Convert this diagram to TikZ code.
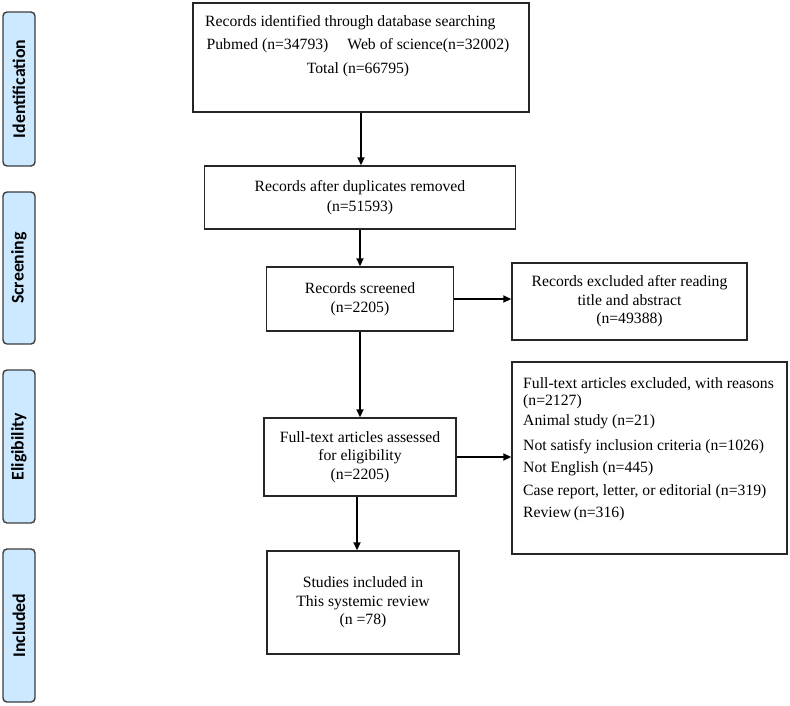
\documentclass[tikz,border=0pt]{standalone}
\usepackage{fontspec}
\setmainfont{Liberation Serif}
\newfontfamily\barfont{Carlito}
\usetikzlibrary{arrows.meta}
\definecolor{barblue}{HTML}{CCE9FF}
\definecolor{edge}{HTML}{262626}
\begin{document}
\begin{tikzpicture}[x=1pt,y=-1pt,
  box/.style={draw=edge, line width=1.4pt, inner sep=0pt, align=center,
    font=\fontsize{15.7}{18.5}\selectfont},
  txt/.style={inner sep=0pt, font=\fontsize{15.7}{18.5}\selectfont},
  bar/.style={draw=edge!90, fill=barblue, line width=1.4pt, rounded corners=4pt,
    rotate=90, minimum width=#1, minimum height=32pt, inner sep=0pt,
    font=\barfont\bfseries\fontsize{17.8}{19}\selectfont},
  arr/.style={-{Triangle[length=8pt,width=7pt]}, line width=1.7pt, draw=black}]
\useasboundingbox (0,0) rectangle (790,705);

% side bars
\node[bar=154] (sid) at (19,89) {Identification};
\node[bar=152] (sscr) at (19,268) {Screening};
\node[bar=153] (selig) at (19,446.5) {Eligibility};
\node[bar=153] (sinc) at (19,625.5) {Included};

% boxes
\node[box, minimum width=336pt, minimum height=109pt] (b1) at (361,57.5) {};
\node[txt, anchor=base west] (t1a) at (205,26) {Records identified through database searching};
\node[txt, anchor=base] (t1b) at (358,49.5) {Pubmed (n=34793)\hspace{19pt}Web of science(n=32002)};
\node[txt, anchor=base] (t1c) at (358,73) {Total (n=66795)};

\node[box, minimum width=311pt, minimum height=63pt, font=\fontsize{15.7}{20}\selectfont] (b2) at (360,197.5)
  {Records after duplicates removed\\(n=51593)};

\node[box, minimum width=187pt, minimum height=64pt, font=\fontsize{15.7}{19}\selectfont] (b3) at (360,299)
  {Records screened\\(n=2205)};

\node[box, minimum width=235pt, minimum height=77pt] (b4) at (629.5,301.5)
  {Records excluded after reading\\title and abstract\\(n=49388)};

\node[box, minimum width=192pt, minimum height=78pt] (b5) at (360,457)
  {Full-text articles assessed\\for eligibility\\(n=2205)};

\node[box, minimum width=275pt, minimum height=192pt] (b6) at (649.5,458) {};
\node[txt, anchor=north west, align=left, font=\fontsize{15.7}{17}\selectfont] (t6) at (523,377.5)
  {Full-text articles excluded, with reasons\\
   (n=2127)\\[2.5pt]
   Animal study (n=21)\\[8pt]
   Not satisfy inclusion criteria (n=1026)\\[5pt]
   Not English (n=445)\\[6pt]
   Case report, letter, or editorial (n=319)\\[5pt]
   Review\,(n=316)};

\node[box, minimum width=192pt, minimum height=103pt] (b7) at (363,602.5)
  {Studies included in\\This systemic review\\(n =78)};

% connectors
\draw[arr] (b1.south) -- (b1.south |- b2.north);
\draw[arr] (b2.south) -- (b2.south |- b3.north);
\draw[arr] (b3.east) -- (b3.east -| b4.west);
\draw[arr] (b3.south) -- (b3.south |- b5.north);
\draw[arr] (b5.east) -- (b5.east -| b6.west);
\draw[arr] ([xshift=-3pt]b5.south) -- ([xshift=-3pt]b5.south |- b7.north);
\end{tikzpicture}
\end{document}
